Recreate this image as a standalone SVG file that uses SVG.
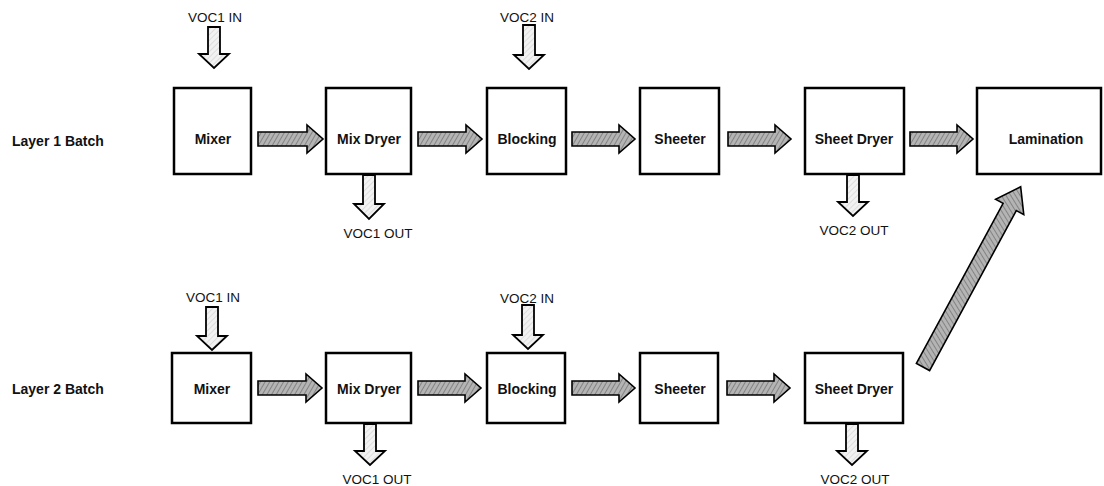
<svg xmlns="http://www.w3.org/2000/svg" width="1104" height="486" viewBox="0 0 1104 486">
<style>
.box{fill:#fff;stroke:#000;stroke-width:2.5}
.lbl{font-family:"Liberation Sans",Arial,sans-serif;font-size:14px;font-weight:bold;fill:#111;text-anchor:middle}
.side{font-family:"Liberation Sans",Arial,sans-serif;font-size:14px;font-weight:bold;fill:#111}
.voc{font-family:"Liberation Sans",Arial,sans-serif;font-size:13.5px;fill:#111;text-anchor:middle}
.harr{fill:url(#hatch);stroke:#000;stroke-width:1.6;stroke-linejoin:miter}
.varr{fill:url(#light);stroke:#000;stroke-width:1.8;stroke-linejoin:miter}
</style>
<defs>
<pattern id="hatch" width="4" height="4" patternUnits="userSpaceOnUse" patternTransform="rotate(30)">
<rect width="4" height="4" fill="#b4b4b4"/>
<line x1="0" y1="0" x2="0" y2="4" stroke="#6e6e6e" stroke-width="1.4"/>
</pattern>
<pattern id="light" width="4" height="4" patternUnits="userSpaceOnUse" patternTransform="rotate(45)">
<rect width="4" height="4" fill="#f2f2f2"/>
<line x1="0" y1="0" x2="0" y2="4" stroke="#c8c8c8" stroke-width="1"/>
</pattern>
</defs>
<rect width="1104" height="486" fill="#fff"/>

<g id="layer1-label"><text class="side" x="12" y="146">Layer 1 Batch</text></g>
<g id="layer2-label"><text class="side" x="12" y="394">Layer 2 Batch</text></g>

<g id="mixer1"><rect class="box" x="174" y="88" width="77" height="86"/><text class="lbl" x="213" y="144">Mixer</text></g>
<g id="mixdryer1"><rect class="box" x="326" y="88" width="85" height="86"/><text class="lbl" x="369" y="144">Mix Dryer</text></g>
<g id="blocking1"><rect class="box" x="487" y="88" width="79" height="86"/><text class="lbl" x="527" y="144">Blocking</text></g>
<g id="sheeter1"><rect class="box" x="640" y="88" width="79" height="86"/><text class="lbl" x="680" y="144">Sheeter</text></g>
<g id="sheetdryer1"><rect class="box" x="805" y="88" width="99" height="86"/><text class="lbl" x="854" y="144">Sheet Dryer</text></g>
<g id="lamination"><rect class="box" x="977" y="88" width="124" height="86"/><text class="lbl" x="1046" y="144">Lamination</text></g>

<g id="mixer2"><rect class="box" x="172" y="353" width="79" height="70"/><text class="lbl" x="212" y="394">Mixer</text></g>
<g id="mixdryer2"><rect class="box" x="326" y="353" width="85" height="70"/><text class="lbl" x="369" y="394">Mix Dryer</text></g>
<g id="blocking2"><rect class="box" x="487" y="353" width="78" height="70"/><text class="lbl" x="527" y="394">Blocking</text></g>
<g id="sheeter2"><rect class="box" x="640" y="353" width="78" height="70"/><text class="lbl" x="680" y="394">Sheeter</text></g>
<g id="sheetdryer2"><rect class="box" x="805" y="353" width="98" height="70"/><text class="lbl" x="854" y="394">Sheet Dryer</text></g>

<g id="voc1in1"><text class="voc" x="215" y="22">VOC1 IN</text></g>
<g id="voc2in1"><text class="voc" x="527" y="22">VOC2 IN</text></g>
<g id="voc1out1"><text class="voc" x="378" y="238">VOC1 OUT</text></g>
<g id="voc2out1"><text class="voc" x="854" y="235">VOC2 OUT</text></g>
<g id="voc1in2"><text class="voc" x="213" y="302">VOC1 IN</text></g>
<g id="voc2in2"><text class="voc" x="527" y="303">VOC2 IN</text></g>
<g id="voc1out2"><text class="voc" x="377" y="484">VOC1 OUT</text></g>
<g id="voc2out2"><text class="voc" x="855" y="484">VOC2 OUT</text></g>

<g id="connectors">
<path class="harr" d="M258 132 H307 V125 L323 139 L307 153 V146 H258 Z"/>
<path class="harr" d="M418 132 H466 V125 L482 139 L466 153 V146 H418 Z"/>
<path class="harr" d="M572 132 H619 V125 L635 139 L619 153 V146 H572 Z"/>
<path class="harr" d="M728 132 H775 V125 L791 139 L775 153 V146 H728 Z"/>
<path class="harr" d="M910 132 H957 V125 L973 139 L957 153 V146 H910 Z"/>

<path class="harr" d="M258 381 H306 V374 L322 388 L306 402 V395 H258 Z"/>
<path class="harr" d="M418 381 H465 V374 L481 388 L465 402 V395 H418 Z"/>
<path class="harr" d="M572 381 H619 V374 L635 388 L619 402 V395 H572 Z"/>
<path class="harr" d="M727 381 H774 V374 L790 388 L774 402 V395 H727 Z"/>

<path class="harr" transform="translate(923 367) rotate(-61.55)" d="M0 -7.5 H182 V-16 L205 0 L182 16 V7.5 H0 Z"/>

<path class="varr" d="M208 27 H220 V54 H229 L214 68 L199 54 H208 Z"/>
<path class="varr" d="M523 25 H535 V55 H544 L529 69 L514 55 H523 Z"/>
<path class="varr" d="M363 175 H375 V204 H384 L369 219 L354 204 H363 Z"/>
<path class="varr" d="M847 175 H859 V202 H868 L853 216 L838 202 H847 Z"/>

<path class="varr" d="M206 307 H218 V336 H227 L212 350 L197 336 H206 Z"/>
<path class="varr" d="M522 305 H534 V335 H543 L528 349 L513 335 H522 Z"/>
<path class="varr" d="M364 424 H376 V451 H385 L370 465 L355 451 H364 Z"/>
<path class="varr" d="M846 424 H858 V451 H867 L852 465 L837 451 H846 Z"/>
</g>
</svg>
